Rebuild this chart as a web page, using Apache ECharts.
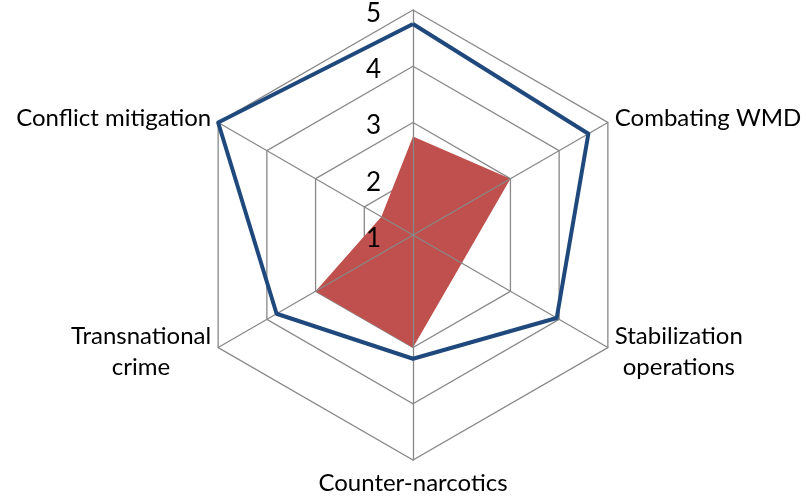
<!DOCTYPE html>
<html>
<head>
<meta charset="utf-8">
<script src="https://cdn.jsdelivr.net/npm/echarts@6/dist/echarts.min.js"></script>
<style>
  html, body { margin: 0; padding: 0; background: #fff; }
  #main { width: 806px; height: 498px; }
</style>
</head>
<body>
<div id="main"></div>
<script>
// categories, counter-clockwise from the top spoke
var categories = ['', 'Conflict mitigation', 'Transnational\ncrime', 'Counter-narcotics', 'Stabilization\noperations', 'Combating WMD'];
var blueValues = [4.75, 5, 3.8, 3.2, 3.95, 4.6];
var redValues = [2.75, 1.65, 3, 3, 2, 3];
var tickLabels = ['1', '2', '3', '4', '5'];

var axisMin = 1;
var axisMax = 5;
var gridColor = '#888888';
var fontFam = 'Lato, "Open Sans", sans-serif';

var chart = echarts.init(document.getElementById('main'), null, { renderer: 'canvas' });

var indicators = categories.map(function (c) {
  return { name: c, min: axisMin, max: axisMax };
});

var radarBase = {
  center: [413, 235],
  radius: 225,
  startAngle: 90,
  shape: 'polygon',
  splitNumber: tickLabels.length - 1,
  indicator: indicators
};

var option = {
  backgroundColor: '#fff',
  animation: false,
  radar: [
    // rings + names, under the red area
    Object.assign({}, radarBase, {
      z: 0,
      nameGap: 8,
      axisName: {
        color: '#000',
        fontSize: 24,
        fontFamily: fontFam,
        lineHeight: 31,
        formatter: function (name) {
          return name.split('\n').map(function (s) { return '{a|' + s + '}'; }).join('\n');
        },
        rich: { a: { align: 'center', fontSize: 24, fontFamily: fontFam, color: '#000', lineHeight: 31 } }
      },
      splitLine: { lineStyle: { color: gridColor, width: 1.3 } },
      splitArea: { show: false },
      axisLine: { show: false },
      axisLabel: { show: false }
    }),
    // spokes, drawn over the red area
    Object.assign({}, radarBase, {
      z: 3,
      axisName: { show: false },
      splitLine: { show: false },
      splitArea: { show: false },
      axisLine: { lineStyle: { color: gridColor, width: 1.3 } },
      axisLabel: { show: false }
    }),
    // one-spoke radar that carries the value labels
    {
      center: [413, 235],
      radius: 225,
      startAngle: 90,
      shape: 'polygon',
      splitNumber: tickLabels.length - 1,
      indicator: [{ name: '', min: axisMin, max: axisMax }],
      z: 5,
      axisName: { show: false },
      splitLine: { show: false },
      splitArea: { show: false },
      axisLine: { show: false },
      axisTick: { show: false },
      axisLabel: {
        show: true,
        color: '#000',
        fontSize: 26,
        fontFamily: fontFam,
        margin: 32,
        lineHeight: 7,
        verticalAlign: 'top',
        formatter: function (v) { return tickLabels[Math.round(v) - axisMin]; }
      }
    }
  ],
  series: [
    {
      type: 'radar',
      radarIndex: 0,
      z: 2,
      symbol: 'none',
      lineStyle: { width: 0, color: '#c0504d' },
      areaStyle: { color: '#c0504d', opacity: 1 },
      data: [{ value: redValues }]
    },
    {
      type: 'radar',
      radarIndex: 1,
      z: 4,
      symbol: 'none',
      lineStyle: { width: 4, color: '#1f497d' },
      data: [{ value: blueValues }]
    }
  ]
};

chart.setOption(option);
</script>
</body>
</html>
